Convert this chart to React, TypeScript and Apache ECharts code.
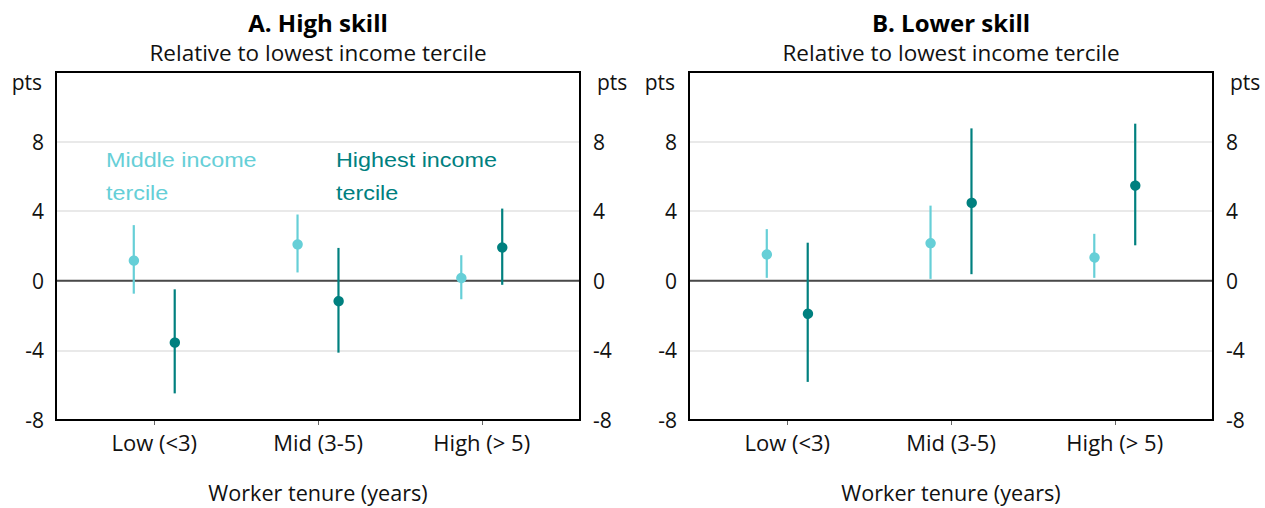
import { useEffect, useRef } from 'react';
import * as echarts from 'echarts';

const categories = ['Low (<3)', 'Mid (3-5)', 'High (> 5)'];
const panelTitles = ['A. High skill', 'B. Lower skill'];
const panelSubtitle = 'Relative to lowest income tercile';
const xAxisTitle = 'Worker tenure (years)';
const yUnit = 'pts';
const seriesLabels = [
  ['Middle income', 'tercile'],
  ['Highest income', 'tercile'],
];

// Panel A: high skill (estimate, lower bound, upper bound)
const highSkillMiddleEst = [1.22, 2.14, 0.21];
const highSkillMiddleLo = [-0.74, 0.48, -1.06];
const highSkillMiddleHi = [3.2, 3.81, 1.47];
const highSkillTopEst = [-3.49, -1.1, 1.96];
const highSkillTopLo = [-6.47, -4.13, -0.23];
const highSkillTopHi = [-0.49, 1.89, 4.15];

// Panel B: lower skill
const lowerSkillMiddleEst = [1.56, 2.21, 1.43];
const lowerSkillMiddleLo = [0.17, 0.11, 0.17];
const lowerSkillMiddleHi = [2.97, 4.32, 2.7];
const lowerSkillTopEst = [-1.81, 4.57, 5.52];
const lowerSkillTopLo = [-5.81, 0.38, 2.04];
const lowerSkillTopHi = [2.19, 8.76, 9.03];

const MIDDLE_COLOR = '#66CFD7';
const TOP_COLOR = '#00807F';
const FONT = 'Open Sans';
const LEGEND_FONT = 'Liberation Sans';

// category positions 1..3, the two terciles drawn side by side
const OFFSET = 0.125;

function rows(est: number[], lo: number[], hi: number[], shift: number) {
  return est.map((v, i) => [i + 1 + shift, lo[i], hi[i], v]);
}

function errorBar(color: string) {
  return (_params: any, api: any) => {
    const x = api.value(0);
    const lo = api.coord([x, api.value(1)]);
    const hi = api.coord([x, api.value(2)]);
    const pt = api.coord([x, api.value(3)]);
    return {
      type: 'group',
      children: [
        {
          type: 'line',
          shape: { x1: hi[0], y1: hi[1], x2: lo[0], y2: lo[1] },
          style: { stroke: color, lineWidth: 2.2 },
        },
        {
          type: 'circle',
          shape: { cx: pt[0], cy: pt[1], r: 5.2 },
          style: { fill: color },
        },
      ],
    };
  };
}

function zeroLine(params: any, api: any) {
  const cs = params.coordSys;
  const y = api.coord([api.value(0), api.value(1)])[1];
  return {
    type: 'line',
    shape: { x1: cs.x, y1: y, x2: cs.x + cs.width, y2: y },
    style: { stroke: '#4a4a4a', lineWidth: 2 },
  };
}

// frame drawn above the grid lines so every side stays black
function frame(params: any) {
  const cs = params.coordSys;
  return {
    type: 'rect',
    shape: { x: cs.x, y: cs.y, width: cs.width, height: cs.height },
    style: { fill: 'none', stroke: '#000', lineWidth: 2 },
  };
}

const panels = [
  {
    middle: rows(highSkillMiddleEst, highSkillMiddleLo, highSkillMiddleHi, -OFFSET),
    top: rows(highSkillTopEst, highSkillTopLo, highSkillTopHi, OFFSET),
  },
  {
    middle: rows(lowerSkillMiddleEst, lowerSkillMiddleLo, lowerSkillMiddleHi, -OFFSET),
    top: rows(lowerSkillTopEst, lowerSkillTopLo, lowerSkillTopHi, OFFSET),
  },
];

const grids = [
  { left: 56, right: 685, top: 72, height: 350 },
  { left: 689, right: 52, top: 72, height: 350 },
];

const tickText = { fontFamily: FONT, fontSize: 21, color: '#111' };

export default function App() {
  const ref = useRef<HTMLDivElement>(null);

  useEffect(() => {
    if (!ref.current) return;
    const chart = echarts.init(ref.current, null, { renderer: 'svg' });

    const xAxis: any[] = [];
    const yAxis: any[] = [];
    const series: any[] = [];
    const graphic: any[] = [];

    grids.forEach((g, gi) => {
      xAxis.push({
        type: 'value',
        gridIndex: gi,
        position: 'bottom',
        min: 0.4,
        max: 3.6,
        axisLine: { show: true, onZero: false, lineStyle: { color: '#000', width: 2 } },
        splitLine: { show: false },
        axisTick: {
          show: true,
          customValues: [1, 2, 3],
          length: 5,
          lineStyle: { color: '#666', width: 1 },
        },
        axisLabel: {
          customValues: [1, 2, 3],
          formatter: (v: number) => categories[Math.round(v) - 1] ?? '',
          margin: 11,
          ...tickText,
          fontSize: 22,
        },
        name: xAxisTitle,
        nameLocation: 'middle',
        nameGap: 61,
        nameTextStyle: { ...tickText, fontSize: 21.6 },
      });
      const yBase = {
        type: 'value',
        gridIndex: gi,
        min: -8,
        max: 12,
        interval: 4,
        axisLine: { show: false, onZero: false },
        axisTick: { show: false },
      };
      yAxis.push({
        ...yBase,
        position: 'left',
        axisLabel: {
          formatter: (v: number) => (v === 12 ? '' : String(v)),
          margin: 12,
          ...tickText,
        },
        splitLine: {
          show: true,
          showMinLine: false,
          showMaxLine: false,
          lineStyle: { color: '#e2e2e2', width: 1.5 },
        },
      });
      yAxis.push({
        ...yBase,
        position: 'right',
        axisLabel: {
          formatter: (v: number) => (v === 12 ? '' : String(v)),
          margin: 13,
          ...tickText,
        },
        splitLine: { show: false },
      });

      series.push({
        type: 'custom',
        xAxisIndex: gi,
        yAxisIndex: gi * 2,
        data: [[2, 0]],
        encode: { x: 0, y: 1 },
        renderItem: zeroLine,
        silent: true,
        z: 1,
      });
      series.push({
        type: 'custom',
        name: seriesLabels[0].join(' '),
        xAxisIndex: gi,
        yAxisIndex: gi * 2,
        data: panels[gi].middle,
        encode: { x: 0, y: [1, 2, 3] },
        renderItem: errorBar(MIDDLE_COLOR),
        z: 3,
      });
      series.push({
        type: 'custom',
        name: seriesLabels[1].join(' '),
        xAxisIndex: gi,
        yAxisIndex: gi * 2,
        data: panels[gi].top,
        encode: { x: 0, y: [1, 2, 3] },
        renderItem: errorBar(TOP_COLOR),
        z: 3,
      });
      series.push({
        type: 'custom',
        xAxisIndex: gi,
        yAxisIndex: gi * 2,
        data: [[2, 0]],
        encode: { x: 0, y: 1 },
        renderItem: frame,
        silent: true,
        clip: false,
        z: 5,
      });

      const left = g.left;
      const right = 1265 - g.right;
      const cx = (left + right) / 2;
      graphic.push(
        {
          type: 'text',
          x: cx,
          y: 22,
          style: {
            text: panelTitles[gi],
            textAlign: 'center',
            textVerticalAlign: 'middle',
            align: 'center',
            verticalAlign: 'middle',
            font: `bold 24px "${FONT}"`,
            fill: '#000',
          },
        },
        {
          type: 'text',
          x: cx,
          y: 52,
          style: {
            text: panelSubtitle,
            textAlign: 'center',
            textVerticalAlign: 'middle',
            align: 'center',
            verticalAlign: 'middle',
            font: `22.5px "${FONT}"`,
            fill: '#111',
          },
        },
        {
          type: 'text',
          x: left - 14,
          y: 82,
          style: {
            text: yUnit,
            textAlign: 'right',
            textVerticalAlign: 'middle',
            align: 'right',
            verticalAlign: 'middle',
            font: `21px "${FONT}"`,
            fill: '#111',
          },
        },
        {
          type: 'text',
          x: right + 17,
          y: 82,
          style: {
            text: yUnit,
            textAlign: 'left',
            textVerticalAlign: 'middle',
            align: 'left',
            verticalAlign: 'middle',
            font: `21px "${FONT}"`,
            fill: '#111',
          },
        }
      );
    });

    // in-panel series labels, panel A
    const legendPos = [
      { x: 106, color: MIDDLE_COLOR },
      { x: 336, color: TOP_COLOR },
    ];
    legendPos.forEach((p, i) => {
      seriesLabels[i].forEach((line, li) => {
        graphic.push({
          type: 'text',
          x: p.x,
          y: 160 + li * 33,
          scaleX: 1.14,
          style: {
            text: line,
            textAlign: 'left',
            textVerticalAlign: 'middle',
            align: 'left',
            verticalAlign: 'middle',
            font: `20.5px "${LEGEND_FONT}"`,
            fill: p.color,
          },
        });
      });
    });

    chart.setOption({
      animation: false,
      backgroundColor: '#fff',
      grid: grids.map((g) => ({
        ...g,
        show: false,
        containLabel: false,
      })),
      xAxis,
      yAxis,
      series,
      graphic,
    });

    return () => chart.dispose();
  }, []);

  return (
    <div
      ref={ref}
      style={{ position: 'absolute', left: 0, top: 0, width: 1265, height: 508 }}
    />
  );
}
